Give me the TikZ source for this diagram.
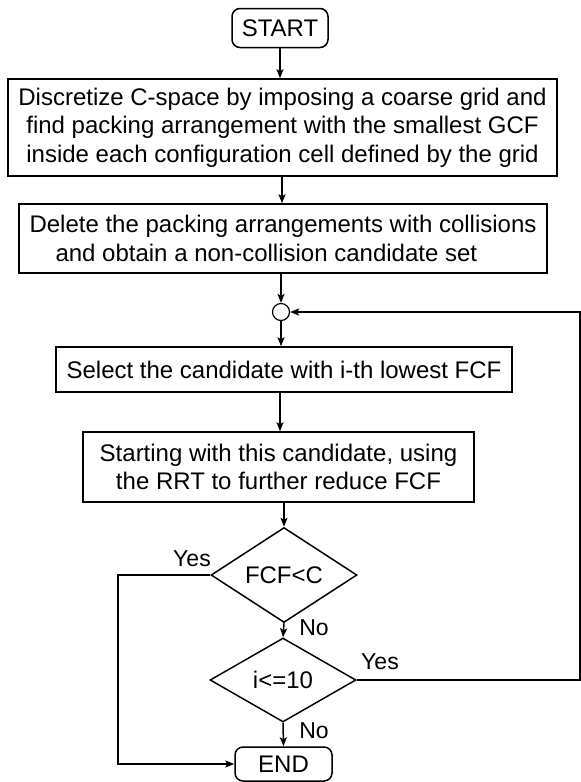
\documentclass[tikz,border=0pt]{standalone}
\usepackage{fontspec}
\setmainfont{Liberation Sans}
\usetikzlibrary{shapes.geometric,arrows.meta}
\begin{document}
\begin{tikzpicture}[x=1pt,y=-1pt,
  every node/.style={font=\fontsize{24}{28.5}\selectfont},
  box/.style={draw,line width=1.5pt,inner sep=0pt,align=center},
  term/.style={box,rounded corners=8pt},
  dec/.style={draw,line width=1.5pt,diamond,inner sep=0pt,minimum width=146pt,minimum height=84pt},
  lbl/.style={inner sep=0pt,font=\fontsize{23}{27}\selectfont},
  arr/.style={line width=1.5pt,-{Stealth[length=9pt,width=7pt,inset=2pt]}},
  ln/.style={line width=1.5pt}]
\useasboundingbox (0,0) rectangle (581,782);
\node[term,minimum width=96pt,minimum height=39pt] (start) at (280,28) {START};
\node[box,minimum width=549pt,minimum height=97pt] (b1) at (282.5,127.5)
  {Discretize C-space by imposing a coarse grid and\\find packing arrangement with the smallest GCF\\inside each configuration cell defined by the grid};
\node[box,minimum width=528pt,minimum height=69pt,align=left] (b2) at (283,238.5)
  {Delete the packing arrangements with collisions\\\hspace*{26pt}and obtain a non-collision candidate set};
\node[draw,circle,line width=1.2pt,minimum size=17pt,inner sep=0pt] (circ) at (281,312) {};
\node[box,minimum width=456pt,minimum height=45pt] (b3) at (284,369.5)
  {Select the candidate with i-th lowest FCF};
\node[box,minimum width=391pt,minimum height=70pt] (b4) at (278.5,467)
  {Starting with this candidate, using\\the RRT to further reduce FCF};
\node[dec] (d1) at (284,575) {FCF<C};
\node[dec] (d2) at (283,680) {i<=10};
\node[term,minimum width=97pt,minimum height=34pt] (end) at (283.5,764) {END};
\coordinate (lx) at (118,0);
\coordinate (rx) at (580,0);
\node[lbl] (yes1) at (192,559) {Yes};
\node[lbl] (no1) at (314,628) {No};
\node[lbl] (yes2) at (380,662) {Yes};
\node[lbl] (no2) at (314,731) {No};
\draw[arr] (start.south) -- (start.south |- b1.north);
\draw[arr] (282,176) coordinate (a1) -- (a1 |- b2.north);
\draw[arr] (b2.south -| circ) -- (circ.north);
\draw[arr] (circ.south) -- (circ.south |- b3.north);
\draw[arr] (b3.south -| 280,0) -- (280,0 |- b4.north);
\draw[arr] (b4.south -| d1.north) -- (d1.north);
\draw[arr] (d1.south) -- (d2.north);
\draw[arr] (d2.south) -- (end.north);
\draw[arr] (d1.west) -- (d1.west -| lx) |- (end.west);
\draw[arr] (d2.east) -- (d2.east -| rx) |- (circ.east);
\end{tikzpicture}
\end{document}
